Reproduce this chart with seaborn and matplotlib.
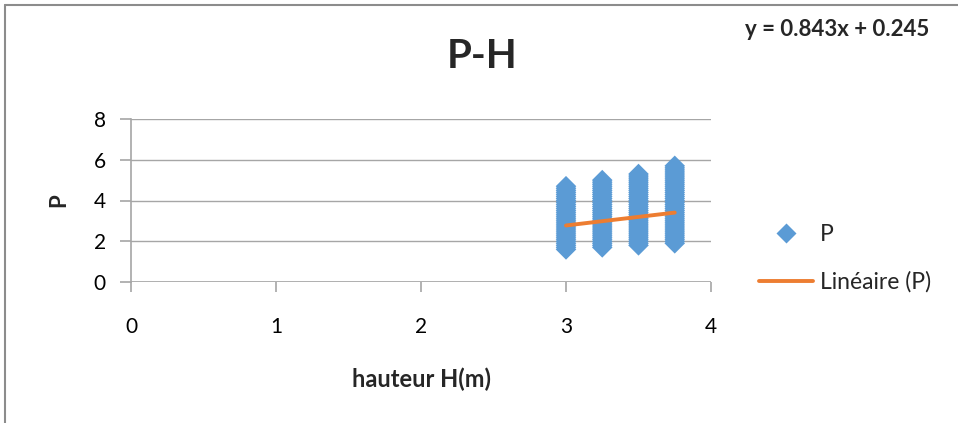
import matplotlib
matplotlib.use("Agg")
import matplotlib.pyplot as plt
import seaborn as sns
import pandas as pd
import numpy as np
from matplotlib.lines import Line2D

# ---- data ----
heights = [3.0, 3.25, 3.5, 3.75]
p_h300 = [1.6, 1.7, 1.8, 1.9, 2.0, 2.1, 2.2, 2.3, 2.4, 2.5, 2.6, 2.7, 2.8, 2.9, 3.0, 3.1,
          3.2, 3.3, 3.4, 3.5, 3.6, 3.7, 3.8, 3.9, 4.0, 4.1, 4.2, 4.3, 4.4, 4.5, 4.6, 4.7]
p_h325 = [1.7, 1.8, 1.9, 2.0, 2.1, 2.2, 2.3, 2.4, 2.5, 2.6, 2.7, 2.8, 2.9, 3.0, 3.1, 3.2,
          3.3, 3.4, 3.5, 3.6, 3.7, 3.8, 3.9, 4.0, 4.1, 4.2, 4.3, 4.4, 4.5, 4.6, 4.7, 4.8,
          4.9, 5.0]
p_h350 = [1.8, 1.9, 2.0, 2.1, 2.2, 2.3, 2.4, 2.5, 2.6, 2.7, 2.8, 2.9, 3.0, 3.1, 3.2, 3.3,
          3.4, 3.5, 3.6, 3.7, 3.8, 3.9, 4.0, 4.1, 4.2, 4.3, 4.4, 4.5, 4.6, 4.7, 4.8, 4.9,
          5.0, 5.1, 5.2, 5.3]
p_h375 = [1.9, 2.0, 2.1, 2.2, 2.3, 2.4, 2.5, 2.6, 2.7, 2.8, 2.9, 3.0, 3.1, 3.2, 3.3, 3.4,
          3.5, 3.6, 3.7, 3.8, 3.9, 4.0, 4.1, 4.2, 4.3, 4.4, 4.5, 4.6, 4.7, 4.8, 4.9, 5.0,
          5.1, 5.2, 5.3, 5.4, 5.5, 5.6, 5.7]
trend_slope = 0.843
trend_intercept = 0.245
x_ticks = [0, 1, 2, 3, 4]
y_ticks = [0, 2, 4, 6, 8]

columns = [p_h300, p_h325, p_h350, p_h375]
df = pd.DataFrame({
    "H": [h for h, col in zip(heights, columns) for _ in col],
    "P": [v for col in columns for v in col],
})

sns.set_theme(style="white")
plt.rcParams["font.family"] = ["Lato", "DejaVu Sans"]

W, H = 958, 423
fig = plt.figure(figsize=(W / 100, H / 100), dpi=100)
ax = fig.add_axes([131 / W, 1 - 282 / H, (711 - 131) / W, (282 - 119) / H])

blue = "#5B9BD5"
orange = "#ED7D31"
grey = "#A6A6A6"

sns.scatterplot(data=df, x="H", y="P", marker="D", s=110, color=blue,
                edgecolor="none", linewidth=0, ax=ax, legend=False, zorder=3)

tx = np.array([min(heights), max(heights)])
sns.lineplot(x=tx, y=trend_slope * tx + trend_intercept, color=orange,
             linewidth=2.8, ax=ax, zorder=4)

ax.set_xlim(0, 4)
ax.set_ylim(0, 8)
ax.set_xticks(x_ticks)
ax.set_yticks(y_ticks)
ax.set_xticklabels([str(t) for t in x_ticks], fontsize=15)
ax.set_yticklabels([str(t) for t in y_ticks], fontsize=15)
ax.yaxis.grid(True, color=grey, linewidth=1)
ax.xaxis.grid(False)
for s in ["top", "right", "bottom"]:
    ax.spines[s].set_visible(False)
ax.spines["left"].set_color(grey)
ax.spines["left"].set_linewidth(1.2)
ax.axhline(0, color=grey, linewidth=1.2, zorder=1)
ax.tick_params(axis="x", direction="out", length=7, width=1.2, color=grey,
               pad=18, bottom=True, labelcolor="black")
ax.tick_params(axis="y", direction="out", length=8, width=1.2, color=grey,
               pad=10, left=True, labelcolor="black")

ax.set_xlabel("hauteur H(m)", fontsize=17, fontweight="bold")
ax.set_ylabel("P", fontsize=16, fontweight="bold")
ax.xaxis.set_label_coords((422 - 131) / 580, -(379 - 282) / 163)
ax.yaxis.set_label_coords(-(131 - 59) / 580, (282 - 200) / 163)
ax.xaxis.label.set_va("center")
ax.yaxis.label.set_va("center")

fig.text(482 / W, 1 - 56 / H, "P-H", fontsize=29, fontweight="bold",
         ha="center", va="center")
fig.text(837 / W, 1 - 30 / H, "y = 0.843x + 0.245", fontsize=16,
         fontweight="bold", ha="center", va="center")

handles = [
    Line2D([0], [0], marker="D", color="none", markerfacecolor=blue,
           markeredgecolor="none", markersize=10, label="P"),
    Line2D([0], [0], color=orange, linewidth=2.8, label="Linéaire (P)"),
]
fig.legend(handles=handles, loc="upper left", bbox_to_anchor=(759 / W, 1 - 224 / H),
           frameon=False, fontsize=16.5, handlelength=2.35, labelspacing=1.15,
           handletextpad=0.3, borderpad=0, borderaxespad=0)

# chart-area border (left and top)
fig.add_artist(Line2D([5 / W, 5 / W], [0, 1 - 5 / H], transform=fig.transFigure,
                      color="#8C8C8C", linewidth=1.5))
fig.add_artist(Line2D([5 / W, 1], [1 - 5 / H, 1 - 5 / H], transform=fig.transFigure,
                      color="#8C8C8C", linewidth=1.5))

fig.savefig("out.png", dpi=100)
